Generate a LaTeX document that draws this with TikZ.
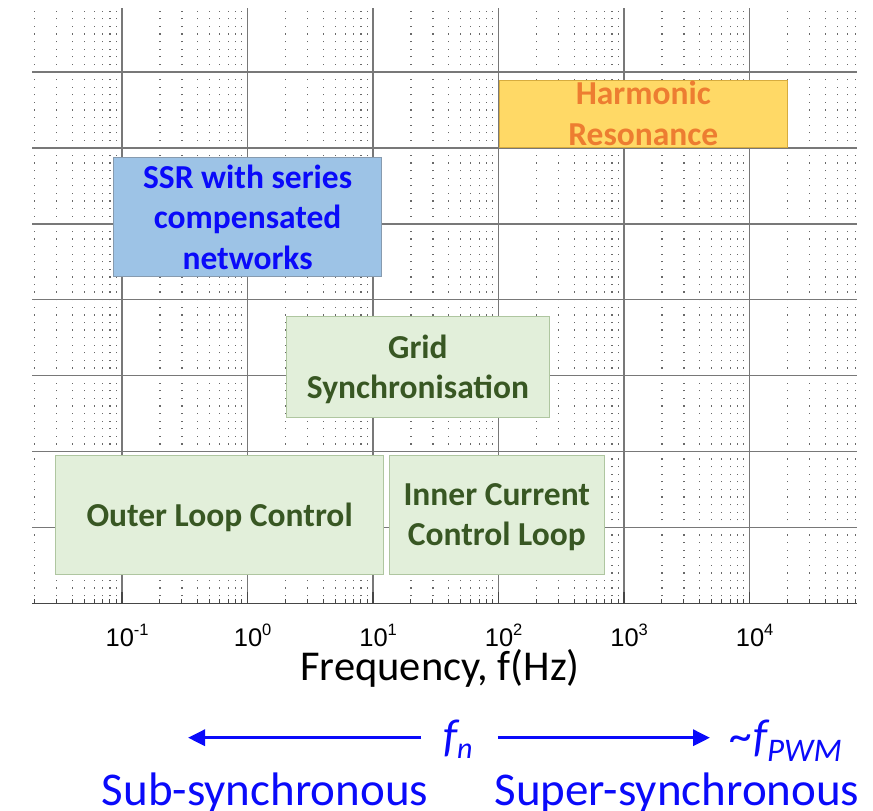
\documentclass[tikz,border=0pt]{standalone}
\usepackage{fontspec}
\setmainfont{Carlito}
\newfontfamily\arialfont{Liberation Sans}
\usetikzlibrary{arrows.meta}

\definecolor{gridgray}{RGB}{120,120,120}
\definecolor{dotgray}{RGB}{105,105,105}
\definecolor{axisgray}{RGB}{70,70,70}
\definecolor{ssrfill}{RGB}{157,195,230}
\definecolor{ssrline}{RGB}{135,155,175}
\definecolor{hrfill}{RGB}{255,217,102}
\definecolor{hrline}{RGB}{215,172,62}
\definecolor{hrtext}{RGB}{237,125,49}
\definecolor{gfill}{RGB}{226,239,218}
\definecolor{gline}{RGB}{175,198,160}
\definecolor{gtext}{RGB}{56,87,35}
\definecolor{fblue}{RGB}{10,10,250}

\tikzset{
  dotline/.style={dotgray, line width=1.25pt, dash pattern=on 1.25pt off 6.34pt},
  majorline/.style={gridgray, line width=1.5pt},
  axisline/.style={axisgray, line width=1.5pt},
  minortick/.style={axisgray, line width=1pt},
  majortick/.style={axisgray, line width=1.6pt},
  ticklbl/.style={font=\arialfont\fontsize{25.5}{30}\selectfont, inner sep=0pt, anchor=base},
  bandbox/.style={line width=0.9pt, inner sep=0pt, anchor=north west},
  boxtxt/.style={font=\fontsize{33.5}{40}\selectfont\bfseries, inner sep=0pt, anchor=base},
  ssrbox/.style={bandbox, fill=ssrfill, draw=ssrline},
  hrbox/.style={bandbox, fill=hrfill, draw=hrline},
  ctrlbox/.style={bandbox, fill=gfill, draw=gline},
  bluetxt/.style={text=fblue, inner sep=0pt, anchor=base},
  bluearrow/.style={fblue, line width=3.2pt, -{Triangle[length=17pt,width=16pt]}}
}

\begin{document}
\begin{tikzpicture}[x=1pt,y=-1pt]
\useasboundingbox (0,0) rectangle (873,811);

% dotted minor grid (2..9 of each decade)
\foreach \d in {-2,...,4}{
  \foreach \m in {2,...,9}{
    \pgfmathsetmacro\fx{247.6+125.5*(\d+ln(\m)/ln(10))}
    \ifdim\fx pt>33pt\ifdim\fx pt<858pt
      \draw[dotline] (\fx,603.92) -- (\fx,10.5);
      \draw[minortick] (\fx,603.3) -- (\fx,598.5);
    \fi\fi
  }
}

% horizontal grid lines
\foreach \k in {1,...,7}{
  \draw[majorline] (32,603.3-75.9*\k) -- (857,603.3-75.9*\k);
}

% decade lines, ticks and labels
\foreach \d/\lbl in {-1/-1,0/0,1/1,2/2,3/3,4/4}{
  \draw[majorline] (247.6+125.5*\d,603.3) -- (247.6+125.5*\d,8);
  \draw[majortick] (247.6+125.5*\d,603.3) -- (247.6+125.5*\d,591.5);
  \node[ticklbl] (tick\d) at (252.6+125.5*\d,646.7)
    {10\raisebox{11.5pt}{\fontsize{16.5}{16.5}\selectfont\lbl}};
}

% frequency axis
\draw[axisline] (32,603.3) -- (857,603.3);
\node[font=\fontsize{42.5}{50}\selectfont, inner sep=0pt, anchor=base] (xlabel) at (440,680) {Frequency, f(Hz)};

% frequency bands
\node[hrbox, minimum width=288.7pt, minimum height=67pt] (hr) at (498.5,80) {};
\node[boxtxt, text=hrtext] (hr1) at (hr.center |- 0,104) {Harmonic};
\node[boxtxt, text=hrtext] (hr2) at (hr.center |- 0,145) {Resonance};

\node[ssrbox, minimum width=267.7pt, minimum height=118.7pt] (ssr) at (113.3,157.3) {};
\node[boxtxt, text=fblue] (ssr1) at (ssr.center |- 0,188) {SSR with series};
\node[boxtxt, text=fblue] (ssr2) at (ssr.center |- 0,228.5) {compensated};
\node[boxtxt, text=fblue] (ssr3) at (ssr.center |- 0,269) {networks};

\node[ctrlbox, minimum width=263pt, minimum height=101pt] (grid) at (286,316) {};
\node[boxtxt, text=gtext] (grid1) at (grid.center |- 0,358) {Grid};
\node[boxtxt, text=gtext] (grid2) at (grid.center |- 0,398) {Synchronisation};

\node[ctrlbox, minimum width=327.7pt, minimum height=119.5pt] (outer) at (55.3,454.5) {};
\node[boxtxt, text=gtext] (outer1) at (outer.center |- 0,526) {Outer Loop Control};

\node[ctrlbox, minimum width=214.7pt, minimum height=119.5pt] (inner) at (389,454.5) {};
\node[boxtxt, text=gtext] (inner1) at (inner.center |- 0,505) {Inner Current};
\node[boxtxt, text=gtext] (inner2) at (inner.center |- 0,545) {Control Loop};

% synchronous frequency and the two ranges
\node[bluetxt, font=\fontsize{46}{50}\selectfont\itshape, anchor=base west] (fn) at (443,751)
  {f\raisebox{-7pt}{\fontsize{30}{30}\selectfont n}};
\node[bluetxt, font=\fontsize{46}{50}\selectfont\itshape, anchor=base west] (pwm) at (730,751)
  {\char`\~f\raisebox{-10pt}{\fontsize{33}{33}\selectfont PWM}};
\coordinate (lowend) at (188,737.7);
\coordinate (arrowrow) at (0,737.7);
\draw[bluearrow, shorten <=22pt] (fn.west |- arrowrow) -- (lowend);
\draw[bluearrow, shorten <=25pt, shorten >=20pt] (fn.east |- arrowrow) -- (pwm.west |- arrowrow);

\node[bluetxt, font=\fontsize{47}{50}\selectfont] (sub) at (265,805) {Sub-synchronous};
\node[bluetxt, font=\fontsize{47}{50}\selectfont] (super) at (677,805) {Super-synchronous};
\end{tikzpicture}
\end{document}
